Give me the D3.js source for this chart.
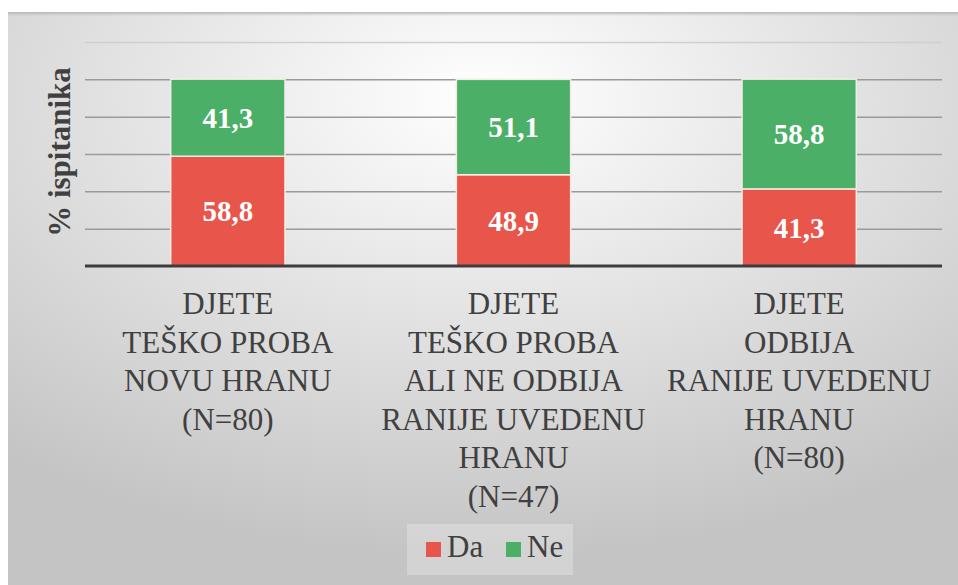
<!DOCTYPE html>
<html>
<head>
<meta charset="utf-8">
<script src="https://cdn.jsdelivr.net/npm/d3@7"></script>
<style>
  body { margin: 0; background: #fff; }
</style>
</head>
<body>
<script>
var width = 958,
    height = 585;
var serif = "'Liberation Serif', 'Times New Roman', serif";

// data
var categories = [
  ["DJETE", "TEŠKO PROBA", "NOVU HRANU", "(N=80)"],
  ["DJETE", "TEŠKO PROBA", "ALI NE ODBIJA", "RANIJE UVEDENU", "HRANU", "(N=47)"],
  ["DJETE", "ODBIJA", "RANIJE UVEDENU", "HRANU", "(N=80)"]
];
var series = ["Da", "Ne"];
var da = [58.8, 48.9, 41.3];
var ne = [41.3, 51.1, 58.8];
var yTicks = [20, 40, 60, 80, 100, 120];

var colors = { Da: "#e8554a", Ne: "#4caf68" };

var svg = d3.select("body").append("svg")
    .attr("width", width)
    .attr("height", height)
    .attr("font-family", serif);

var defs = svg.append("defs");
var grad = defs.append("radialGradient")
    .attr("id", "bg")
    .attr("cx", "50%").attr("cy", "15%").attr("r", "80%");
grad.append("stop").attr("offset", "0%").attr("stop-color", "#ffffff");
grad.append("stop").attr("offset", "100%").attr("stop-color", "#c4c4c4");

var shadow = defs.append("linearGradient")
    .attr("id", "topshade").attr("x1", 0).attr("y1", 0).attr("x2", 0).attr("y2", 1);
shadow.append("stop").attr("offset", "0%").attr("stop-color", "#b8b8b8");
shadow.append("stop").attr("offset", "100%").attr("stop-color", "#b8b8b8").attr("stop-opacity", 0);

svg.append("rect")
    .attr("x", 8).attr("y", 12)
    .attr("width", width - 8).attr("height", height - 12)
    .attr("fill", "url(#bg)");
svg.append("rect")
    .attr("x", 8).attr("y", 12)
    .attr("width", width - 8).attr("height", 4)
    .attr("fill", "url(#topshade)");

var margin = { left: 85, right: 16, top: 42, bottom: 319 };

var x = d3.scaleBand()
    .domain(d3.range(categories.length))
    .range([margin.left, width - margin.right])
    .paddingInner(0.6)
    .paddingOuter(0.3);

var y = d3.scaleLinear()
    .domain([0, 120])
    .range([height - margin.bottom, margin.top]);

// gridlines
svg.append("g")
    .attr("class", "grid")
    .attr("transform", "translate(" + margin.left + ",0)")
    .call(d3.axisLeft(y)
      .tickValues(yTicks)
      .tickSize(-(width - margin.left - margin.right))
      .tickFormat(""))
    .call(function(g) {
      g.select(".domain").remove();
      g.selectAll(".tick line")
        .attr("stroke", function(d) { return d === 120 ? "#cfcfcf" : "#9a9a9a"; })
        .attr("stroke-width", 1.5);
    });

var rows = da.map(function(d, i) { return { i: i, Da: d, Ne: ne[i] }; });
var stacked = d3.stack().keys(series)(rows);

var layers = svg.selectAll(".layer")
    .data(stacked)
  .enter().append("g")
    .attr("class", "layer")
    .attr("fill", function(d) { return colors[d.key]; });

layers.selectAll("rect")
    .data(function(d) { return d; })
  .enter().append("rect")
    .attr("x", function(d) { return x(d.data.i); })
    .attr("y", function(d) { return y(d[1]); })
    .attr("width", x.bandwidth())
    .attr("height", function(d) { return y(d[0]) - y(d[1]); })
    .attr("stroke", "#f4ece2")
    .attr("stroke-width", 1.5);

layers.selectAll("text")
    .data(function(d) { return d; })
  .enter().append("text")
    .attr("x", function(d) { return x(d.data.i) + x.bandwidth() / 2; })
    .attr("y", function(d) { return (y(d[0]) + y(d[1])) / 2; })
    .attr("dy", "0.35em")
    .attr("text-anchor", "middle")
    .attr("fill", "#ffffff")
    .attr("font-weight", "bold")
    .attr("font-size", 29)
    .text(function(d) { return d3.format(".1f")(d[1] - d[0]).replace(".", ","); });

// baseline
svg.append("line")
    .attr("x1", margin.left).attr("x2", width - margin.right)
    .attr("y1", y(0)).attr("y2", y(0))
    .attr("stroke", "#3d3d3d")
    .attr("stroke-width", 3);

// category labels
var cat = svg.selectAll(".cat")
    .data(categories)
  .enter().append("text")
    .attr("class", "cat")
    .attr("text-anchor", "middle")
    .attr("fill", "#404040")
    .attr("font-size", 31);

cat.selectAll("tspan")
    .data(function(d, i) { return d.map(function(s) { return { s: s, i: i }; }); })
  .enter().append("tspan")
    .attr("x", function(d) { return x(d.i) + x.bandwidth() / 2; })
    .attr("y", function(d, j) { return 314 + j * 38.5; })
    .text(function(d) { return d.s; });

// y axis title
svg.append("text")
    .attr("transform", "translate(70," + (y(60) - 2) + ") rotate(-90)")
    .attr("text-anchor", "middle")
    .attr("fill", "#404040")
    .attr("font-weight", "bold")
    .attr("font-size", 31)
    .text("% ispitanika");

// legend
var legend = svg.append("g")
    .attr("transform", "translate(407,524)");

legend.append("rect")
    .attr("width", 166)
    .attr("height", 51)
    .attr("fill", "#ffffff")
    .attr("fill-opacity", 0.25);

var item = legend.selectAll(".item")
    .data(series)
  .enter().append("g")
    .attr("class", "item")
    .attr("transform", function(d, i) { return "translate(" + (19 + i * 80) + ",18)"; });

item.append("rect")
    .attr("width", 15)
    .attr("height", 15)
    .attr("fill", function(d) { return colors[d]; });

item.append("text")
    .attr("x", 21)
    .attr("y", 15)
    .attr("fill", "#404040")
    .attr("font-size", 31)
    .text(function(d) { return d; });
</script>
</body>
</html>
